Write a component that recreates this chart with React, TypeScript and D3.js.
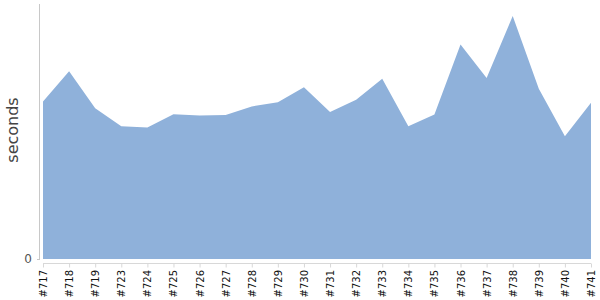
import React from "react";
import * as d3 from "d3";

const categories = ["#717","#718","#719","#723","#724","#725","#726","#727","#728","#729","#730","#731","#732","#733","#734","#735","#736","#737","#738","#739","#740","#741"];
const seconds = [185.4,220.9,177.5,156.3,154.7,170.4,168.9,169.3,179.5,184.3,202,172.8,187.4,212.2,156.3,170.1,252.4,213,285.8,200.4,144.4,183.9];
const yTicks = [0];

const W = 600, H = 300;
const left = 43, right = 591, top = 4, base = 259;

export default function App() {
  const x = d3.scalePoint<string>().domain(categories).range([left, right]);
  const y = d3.scaleLinear().domain([0, 300]).range([base, top]);
  const data = categories.map((c, i) => ({ c, v: seconds[i] }));
  const area = d3.area<{ c: string; v: number }>()
    .x(d => x(d.c)!)
    .y0(y(0))
    .y1(d => y(d.v));
  const axisY = 263.5;
  return (
    <svg width={W} height={H} style={{ position: "absolute", left: 0, top: 0 }} fontFamily="DejaVu Sans">
      <path d={area(data)!} fill="#8fb1da" />
      <line x1={39.5} x2={39.5} y1={top} y2={base + 1} stroke="#c8c8c8" />
      {yTicks.map(t => (
        <g key={t}>
          <line x1={37} x2={40} y1={y(t) + 0.5} y2={y(t) + 0.5} stroke="#c8c8c8" />
          <text x={32} y={y(t)} dy="0.35em" textAnchor="end" fontSize={12} fill="#555">{t}</text>
        </g>
      ))}
      <line x1={left} x2={right} y1={axisY} y2={axisY} stroke="#d8d8d8" />
      {categories.map(c => (
        <g key={c} transform={`translate(${x(c)},0)`}>
          <line x1={0.5} x2={0.5} y1={axisY} y2={axisY + 4} stroke="#d8d8d8" />
          <text transform={`translate(4,270) rotate(-90)`} textAnchor="end" fontSize={10} fill="#111">{c}</text>
        </g>
      ))}
      <text transform={`translate(18,130) rotate(-90)`} textAnchor="middle" fontSize={16} fill="#444">seconds</text>
    </svg>
  );
}
